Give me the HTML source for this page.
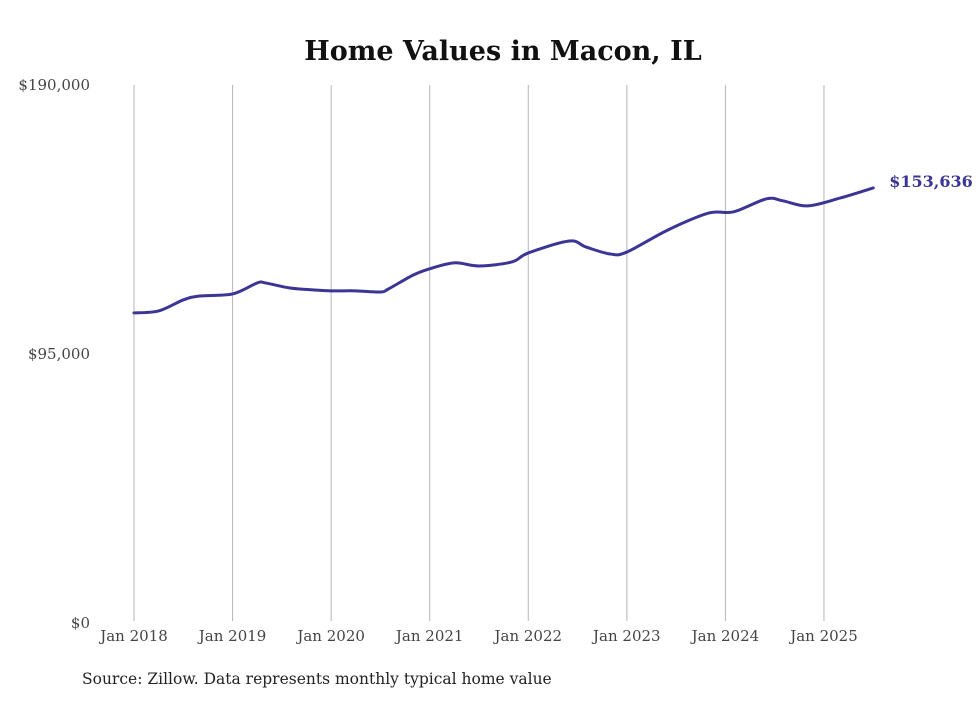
<!DOCTYPE html>
<html><head><meta charset="utf-8"><style>
body{margin:0;background:#fff;width:980px;height:699px;overflow:hidden}
text{font-family:"DejaVu Serif","Liberation Serif",serif}
</style></head><body>
<svg id="chart" width="980" height="699">
<text x="503" y="60" text-anchor="middle" font-size="27" font-weight="bold" fill="#111">Home Values in Macon, IL</text>
<g id="grid"></g><g id="yaxis"></g><g id="xaxis"></g><g id="series"></g>
<text x="82" y="684" font-size="15.5" fill="#222">Source: Zillow. Data represents monthly typical home value</text>
</svg>
<script>
const months=[0,3,6,8,12,15,16,19,22,24,27,30,31,34,36,39,42,46,48,53,55,58,60,65,70,73,77,79,82,86,90];
const values=[109500,110200,114100,115500,116200,120100,120100,118300,117600,117300,117300,116900,118000,122900,125100,127200,126100,127500,130700,134900,132800,130300,131000,138800,144800,145200,149800,149100,147300,150100,153636];
const yTicks=[0,95000,190000];
const yTickLabels=["$0","$95,000","$190,000"];
const xTickYears=[2018,2019,2020,2021,2022,2023,2024,2025];
const lastLabel="$153,636";
const NS="http://www.w3.org/2000/svg";
const X=m=>134+m*8.214, Y=v=>623-v/190000*538;
function mk(t,a,p){const e=document.createElementNS(NS,t);for(const k in a)e.setAttribute(k,a[k]);p.appendChild(e);return e;}
const grid=document.getElementById('grid'),ya=document.getElementById('yaxis'),xa=document.getElementById('xaxis'),se=document.getElementById('series');
xTickYears.forEach((yr,i)=>{
 const x=X(i*12);
 const l=mk('line',{x1:x,x2:x,y1:85,y2:621,stroke:'#b5b5b5','stroke-width':1},grid);
 
 
 const t=mk('text',{x:x,y:641,'text-anchor':'middle','font-size':15,fill:'#444'},xa);
 t.textContent='Jan '+yr;
 
 
});
yTicks.forEach((v,i)=>{
 const t=mk('text',{x:90,y:Y(v)+5,'text-anchor':'end','font-size':15,fill:'#444'},ya);
 t.textContent=yTickLabels[i];
 
 
});
const pts=months.map((m,i)=>[X(m),Y(values[i])]);
let d='M'+pts[0][0]+','+pts[0][1];
for(let i=0;i<pts.length-1;i++){
 const p0=pts[i-1]||pts[i],p1=pts[i],p2=pts[i+1],p3=pts[i+2]||p2;
 const c1=[p1[0]+(p2[0]-p0[0])/6,p1[1]+(p2[1]-p0[1])/6],c2=[p2[0]-(p3[0]-p1[0])/6,p2[1]-(p3[1]-p1[1])/6];
 d+=` C${c1[0]},${c1[1]} ${c2[0]},${c2[1]} ${p2[0]},${p2[1]}`;
}
const path=mk('path',{d:d,fill:'none',stroke:'#3b3596','stroke-width':3,'stroke-linejoin':'round','stroke-linecap':'round'},se);


const last=pts[pts.length-1];
const lt=mk('text',{x:last[0]+16,y:last[1]-1,'font-size':16,'font-weight':'bold',fill:'#3b3596'},se);
lt.textContent=lastLabel;


</script>
</body></html>
